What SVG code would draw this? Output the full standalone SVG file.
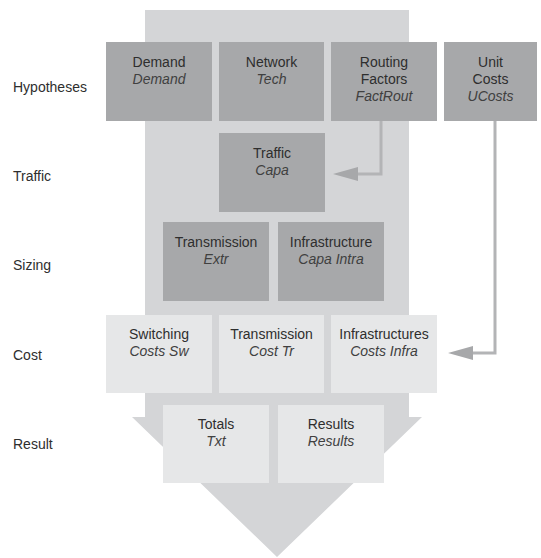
<svg xmlns="http://www.w3.org/2000/svg" width="541" height="558" viewBox="0 0 541 558">
<style>
text{font-family:"Liberation Sans",Arial,sans-serif;fill:#2e2e2e}
.lbl{font-size:14px}
.t{font-size:14px;text-anchor:middle}
.i{font-style:italic;fill:#404040}
.dark{fill:#a7a8aa}
.light{fill:#e6e7e8}
.conn{fill:none;stroke:#b3b4b6;stroke-width:3}
.head{fill:#a7a8aa}
</style>
<rect width="541" height="558" fill="#ffffff"/>
<polygon id="flow" points="145,10 409,10 409,417 422,417 277,557 132,417 145,417" fill="#d4d5d7"/>
<g id="row-labels">
<text class="lbl" x="13" y="92">Hypotheses</text>
<text class="lbl" x="13" y="181">Traffic</text>
<text class="lbl" x="13" y="270">Sizing</text>
<text class="lbl" x="13" y="360">Cost</text>
<text class="lbl" x="13" y="449">Result</text>
</g>
<g id="demand"><rect class="dark" x="106" y="42" width="106" height="79"/><text class="t" x="159" y="67">Demand</text><text class="t i" x="159" y="84">Demand</text></g>
<g id="network"><rect class="dark" x="219" y="42" width="105" height="79"/><text class="t" x="271.5" y="67">Network</text><text class="t i" x="271.5" y="84">Tech</text></g>
<g id="routing"><rect class="dark" x="331" y="42" width="106" height="79"/><text class="t" x="384" y="67">Routing</text><text class="t" x="384" y="84">Factors</text><text class="t i" x="384" y="101">FactRout</text></g>
<g id="unitcosts"><rect class="dark" x="444" y="42" width="93" height="79"/><text class="t" x="490.5" y="67">Unit</text><text class="t" x="490.5" y="84">Costs</text><text class="t i" x="490.5" y="101">UCosts</text></g>
<g id="traffic"><rect class="dark" x="219" y="133" width="106" height="79"/><text class="t" x="272" y="158">Traffic</text><text class="t i" x="272" y="175">Capa</text></g>
<g id="sizing-transmission"><rect class="dark" x="163" y="222" width="106" height="79"/><text class="t" x="216" y="247">Transmission</text><text class="t i" x="216" y="264">Extr</text></g>
<g id="sizing-infrastructure"><rect class="dark" x="278" y="222" width="106" height="79"/><text class="t" x="331" y="247">Infrastructure</text><text class="t i" x="331" y="264">Capa Intra</text></g>
<g id="switching"><rect class="light" x="106" y="315" width="106" height="78"/><text class="t" x="159" y="339">Switching</text><text class="t i" x="159" y="356">Costs Sw</text></g>
<g id="cost-transmission"><rect class="light" x="219" y="315" width="105" height="78"/><text class="t" x="271.5" y="339">Transmission</text><text class="t i" x="271.5" y="356">Cost Tr</text></g>
<g id="infrastructures"><rect class="light" x="331" y="315" width="106" height="78"/><text class="t" x="384" y="339">Infrastructures</text><text class="t i" x="384" y="356">Costs Infra</text></g>
<g id="totals"><rect class="light" x="163" y="405" width="106" height="78"/><text class="t" x="216" y="429">Totals</text><text class="t i" x="216" y="446">Txt</text></g>
<g id="results"><rect class="light" x="278" y="405" width="106" height="78"/><text class="t" x="331" y="429">Results</text><text class="t i" x="331" y="446">Results</text></g>
<g id="connectors">
<polyline class="conn" points="381,121 381,174 356,174"/>
<polygon class="head" points="333,174 358,167 358,181"/>
<polyline class="conn" points="495,121 495,353 471,353"/>
<polygon class="head" points="448,353 473,346 473,360"/>
</g>
</svg>
